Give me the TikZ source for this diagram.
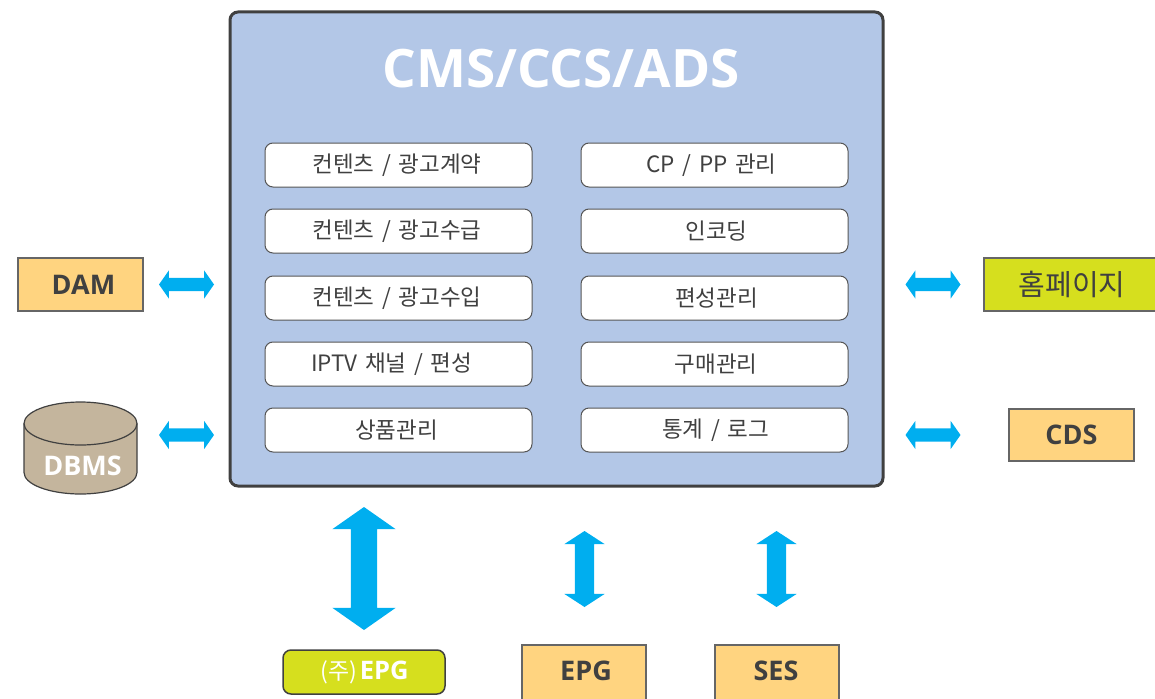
\documentclass[tikz,border=0pt]{standalone}
\usepackage{fontspec}
\setmainfont{Open Sans}
\newfontfamily\kr[WordSpace=1.5]{Noto Sans CJK KR}
\usetikzlibrary{shapes.arrows}
\definecolor{panel}{HTML}{B3C7E7}
\definecolor{peach}{HTML}{FFD480}
\definecolor{lime}{HTML}{D6DF1E}
\definecolor{tan}{HTML}{C4B59D}
\definecolor{ink}{HTML}{404040}
\definecolor{edge}{HTML}{555555}
\definecolor{sideedge}{HTML}{666666}
\definecolor{cyanarrow}{HTML}{00AEEF}
\tikzset{
  every node/.style={outer sep=0pt,inner sep=0pt},
  mainbox/.style={draw=ink,line width=3pt,fill=panel,rounded corners=8pt,minimum width=653pt,minimum height=474pt},
  itembox/.style={draw=edge,line width=1pt,fill=white,rounded corners=8pt,minimum width=267pt,minimum height=44pt,text=ink},
  itemtext/.style={text=ink,font=\kr\fontsize{22.5}{26}\selectfont},
  sidebox/.style={draw=sideedge,line width=1.1pt,fill=peach,minimum width=125pt,minimum height=53pt,text=ink,font=\fontsize{27}{30}\selectfont\bfseries},
  hbar/.style={double arrow,fill=cyanarrow,text height=13pt,text depth=0pt,text width=0pt,minimum height=55pt,minimum width=28pt,double arrow head extend=7.5pt,double arrow tip angle=110},
  vbig/.style={double arrow,shape border rotate=90,fill=cyanarrow,text width=26pt,text height=0pt,text depth=0pt,minimum height=123pt,minimum width=63pt,double arrow head extend=18.5pt,double arrow tip angle=110},
  vsmall/.style={double arrow,shape border rotate=90,fill=cyanarrow,text width=19pt,text height=0pt,text depth=0pt,minimum height=76pt,minimum width=40pt,double arrow head extend=10.5pt,double arrow tip angle=114},
}
\begin{document}
\begin{tikzpicture}[x=1pt,y=-1pt]
\useasboundingbox (0,0) rectangle (1155,698);
\node[mainbox] (main) at (556.5,249) {};
\node[text=white,font=\fontsize{53}{60}\selectfont\bfseries] (title) at (561,69) {CMS/CCS/ADS};
\foreach \n/\x/\tx/\y/\t in {l1/398.5/397/165/{컨텐츠 / 광고계약},l2/398.5/397/231/{컨텐츠 / 광고수급},l3/398.5/397/298/{컨텐츠 / 광고수입},l4/398.5/391.5/364/{IPTV 채널 / 편성},l5/398.5/396.5/430/{상품관리},r1/714.5/711.5/165/{CP / PP 관리},r2/714.5/716.5/231/{인코딩},r3/714.5/716.5/298/{편성관리},r4/714.5/716/364/{구매관리},r5/714.5/715.5/430/{통계 / 로그}}{
  \node[itembox] (\n) at (\x,\y) {};
  \node[itemtext] (\n t) at (\tx,\y+0.2) {\t};
}
\node[sidebox] (dam) at (80.5,284.5) {\hspace*{6pt}DAM};
\node[sidebox,fill=lime,minimum width=176pt,font=\kr\fontsize{29}{32}\selectfont] (home) at (1072,284.5) {홈페이지};
\node[sidebox,minimum height=52pt] (cds) at (1071.5,435) {CDS};
\draw[draw=ink,line width=1.2pt,fill=tan] (24,423.5) -- (24,472.5) arc[start angle=180,end angle=0,x radius=56.5,y radius=21.5] -- (137,423.5) arc[start angle=0,end angle=-180,x radius=56.5,y radius=21.5] -- cycle;
\draw[draw=ink,line width=1.2pt] (24,423.5) arc[start angle=180,end angle=0,x radius=56.5,y radius=21.5];
\node[text=white,font=\fontsize{27}{30}\selectfont\bfseries] (dbmst) at (82.5,466) {DBMS};
\node[hbar] (a1) at (186.5,284.5) {};
\node[hbar] (a2) at (186.5,435) {};
\node[hbar] (a3) at (933,284.5) {};
\node[hbar] (a4) at (933,435) {};
\node[vbig] (a5) at (364,568.5) {};
\node[vsmall] (a6) at (584.5,569) {};
\node[vsmall] (a7) at (776.5,569) {};
\node[draw=ink,line width=1.5pt,fill=lime,rounded corners=8pt,minimum width=162pt,minimum height=44pt] (jepg) at (364,672) {};
\node[text=white] (jepgt) at (364.5,672.5) {{\kr\fontsize{23}{26}\selectfont (주)} {\fontsize{25.5}{28}\selectfont\bfseries EPG}};
\node[sidebox,minimum height=57pt,minimum width=124pt] (epg) at (584,673.5) {};
\node[text=ink,font=\fontsize{27}{30}\selectfont\bfseries] (epgt) at (586,671) {EPG};
\node[sidebox,minimum height=57pt,minimum width=124pt] (ses) at (777,673.5) {};
\node[text=ink,font=\fontsize{27}{30}\selectfont\bfseries] (sest) at (776,671) {SES};
\end{tikzpicture}
\end{document}
